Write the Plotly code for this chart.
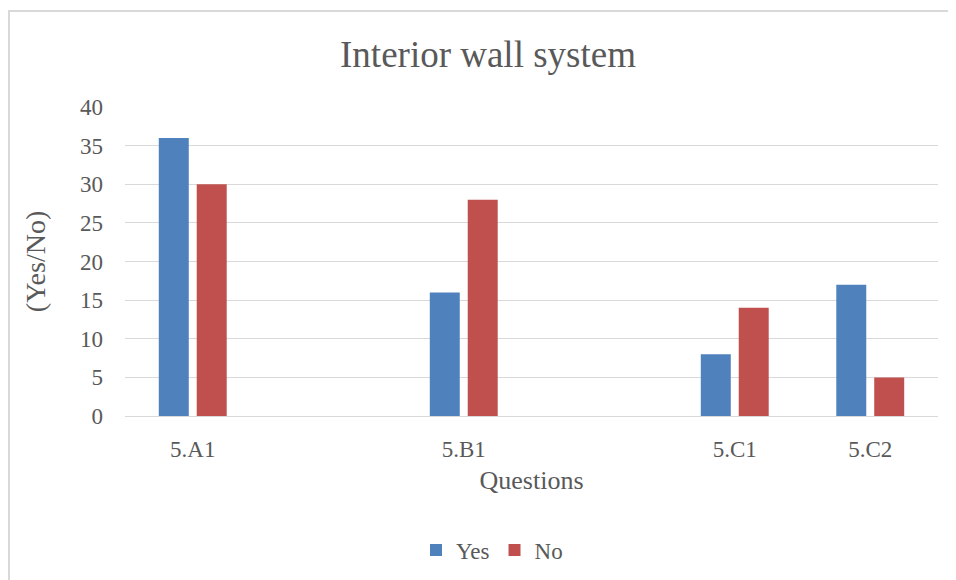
import plotly.graph_objects as go

categories = ["5.A1", " ", "5.B1", "  ", "5.C1", "5.C2"]
questions = ["5.A1", "5.B1", "5.C1", "5.C2"]
yes_values = [36, 16, 8, 17]
no_values = [30, 28, 14, 5]
y_ticks = [0, 5, 10, 15, 20, 25, 30, 35, 40]

font = "Liberation Serif"
grey = "#595959"

# page has an 8px body margin; figure starts at (8, 8)
fig = go.Figure()
fig.add_trace(go.Bar(name="Yes", x=questions, y=yes_values, marker_color="#4F81BD",
                     marker_line_width=0))
fig.add_trace(go.Bar(name="No", x=questions, y=no_values, marker_color="#C0504D",
                     marker_line_width=0))

fig.update_layout(
    width=956, height=580,
    margin=dict(l=117, r=26, t=99, b=172),
    paper_bgcolor="white", plot_bgcolor="white",
    barmode="group", bargap=0.44, bargroupgap=0.21,
    font=dict(family=font, color=grey, size=21),
    title=dict(text="Interior wall system", x=(488 - 8) / 956, xanchor="center",
               y=1 - 46 / 580, yanchor="middle",
               font=dict(family=font, size=37, color=grey)),
    xaxis=dict(type="category", categoryorder="array", categoryarray=categories,
               tickvals=categories, showgrid=False, showline=True, linecolor="#d9d9d9",
               linewidth=1, ticks="", ticklabelstandoff=12,
               tickfont=dict(size=23, color=grey),
               title=dict(text="Questions", font=dict(size=26, color=grey), standoff=10)),
    yaxis=dict(range=[0, 40], tickvals=y_ticks, showgrid=True, gridcolor="#d9d9d9",
               gridwidth=1, zeroline=False, ticks="", ticklabelstandoff=21,
               tickfont=dict(size=23, color=grey),
               title=dict(text="(Yes/No)", font=dict(size=28, color=grey), standoff=26)),
    legend=dict(orientation="h", x=(492 - 125) / 813, xanchor="center", y=-(550 - 416) / 309,
                yanchor="middle", font=dict(size=23, color=grey),
                itemwidth=30, traceorder="normal"),
    showlegend=True,
)

fig.add_shape(type="rect", xref="paper", yref="paper",
              x0=(9 - 125) / 813, x1=(990 - 125) / 813, y0=(416 - 620) / 309, y1=(416 - 11) / 309,
              line=dict(color="#d9d9d9", width=2), fillcolor="rgba(0,0,0,0)", layer="below")

fig.write_html("out.html")
